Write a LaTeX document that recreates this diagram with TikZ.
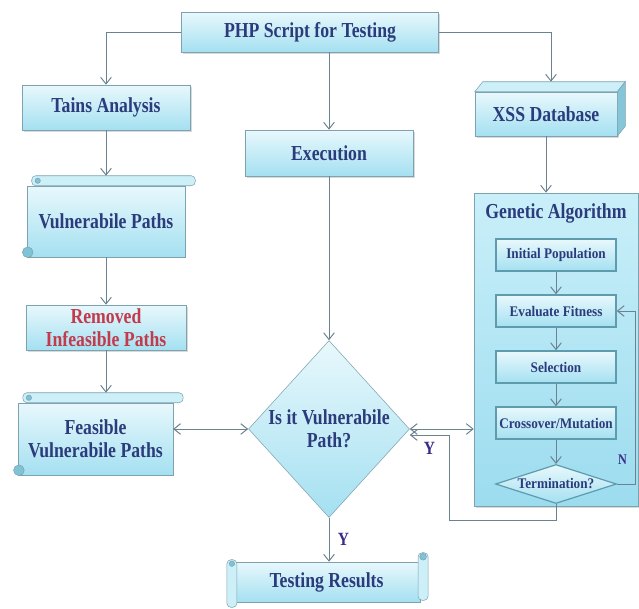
\documentclass[tikz,border=0pt]{standalone}
\usepackage{fontspec}
\setmainfont[FakeStretch=0.83]{Liberation Serif}
\newfontfamily\gafont[FakeStretch=0.9]{Liberation Serif}
\usepackage {tikz}
\usetikzlibrary {positioning}
\usetikzlibrary{shapes,arrows.meta,shadows,calc}

\definecolor{txtblue}{HTML}{2B3B7C}
\definecolor{txtred}{HTML}{C23A4C}
\definecolor{ylabel}{HTML}{3A2C88}
\definecolor{boxedge}{HTML}{7DA3B0}
\definecolor{gaedge}{HTML}{5E9CAD}
\definecolor{boxtop}{HTML}{E8F8FC}
\definecolor{boxbot}{HTML}{A4E0F1}
\definecolor{rollfill}{HTML}{CDEFF8}
\definecolor{curl}{HTML}{7FC3D6}
\definecolor{gatop}{HTML}{C9EFF9}
\definecolor{gabot}{HTML}{9CDCEF}
\definecolor{sidefill}{HTML}{86C6D8}
\definecolor{arrowgray}{HTML}{6B8290}

\tikzstyle{panel} = [rectangle, draw=boxedge, top color=boxtop, bottom color=boxbot,
    text=txtblue, font=\bfseries\fontsize{16}{17.5}\selectfont, align=center, inner sep=0pt]
\tikzstyle{block} = [panel, drop shadow={shadow xshift=1.2pt, shadow yshift=-1.2pt, opacity=0.3}]
\tikzstyle{scroll} = [panel]
\tikzstyle{decision} = [diamond, draw=boxedge, top color=boxtop, bottom color=boxbot,
    text=txtblue, font=\bfseries\fontsize{16}{17.5}\selectfont, align=center,
    inner sep=-8pt, aspect=0.9, minimum width=120.75pt, minimum height=132.75pt]
\tikzstyle{gacont} = [rectangle, draw=boxedge, top color=gatop, bottom color=gabot,
    drop shadow={shadow xshift=1.2pt, shadow yshift=-1.2pt, opacity=0.3}]
\tikzstyle{gatitle} = [text=txtblue, font=\bfseries\fontsize{16}{17.5}\selectfont]
\tikzstyle{gabox} = [rectangle, draw=gaedge, line width=1.1pt, top color=boxtop, bottom color=boxbot,
    text=txtblue, font=\gafont\bfseries\fontsize{11}{12}\selectfont,
    minimum width=90pt, minimum height=24pt, inner sep=0pt]
\tikzstyle{gatest} = [diamond, draw=gaedge, line width=0.9pt, top color=boxtop, bottom color=boxbot,
    text=txtblue, font=\gafont\bfseries\fontsize{11}{12}\selectfont,
    aspect=3, inner sep=-3pt, minimum width=90.75pt, minimum height=29.25pt]
\tikzstyle{line} = [draw=arrowgray, line width=0.75pt, ->]
\tikzstyle{dline} = [draw=arrowgray, line width=0.75pt, <->]
\tikzstyle{yn} = [text=ylabel, font=\bfseries\fontsize{14}{14}\selectfont]

% rolled paper ends
\newcommand{\hscroll}[1]{%
  \draw[boxedge, fill=rollfill, rounded corners=3pt] ($(#1.north west)+(5,-10)$) rectangle ($(#1.north east)+(10,0)$);
  \draw[boxedge, fill=curl] ($(#1.north west)+(11,-5)$) circle (2pt);
  \draw[boxedge, fill=curl] ($(#1.south west)+(1,-5)$) circle (4pt);
  \coordinate (#1-roll) at ($(#1.north)+(0,-10)$);}
\newcommand{\vscroll}[1]{%
  \draw[boxedge, fill=rollfill, rounded corners=3pt] ($(#1.south west)+(-6,5)$) rectangle ($(#1.north west)+(4,-2)$);
  \draw[boxedge, fill=rollfill, rounded corners=3pt] ($(#1.north east)+(-2,-9)$) rectangle ($(#1.south east)+(8,-2)$);
  \draw[boxedge, fill=curl] ($(#1.north west)+(-1,2)$) circle (2pt);
  \draw[boxedge, fill=curl] ($(#1.north east)+(3,-5)$) circle (2.5pt);}
% box seen in depth
\newcommand{\cubefaces}[1]{%
  \draw[boxedge, fill=rollfill] (#1.north west) -- ($(#1.north west)+(8,-10)$) -- ($(#1.north east)+(8,-10)$) -- (#1.north east) -- cycle;
  \draw[boxedge, fill=sidefill] (#1.north east) -- ($(#1.north east)+(8,-10)$) -- ($(#1.south east)+(8,-10)$) -- (#1.south east) -- cycle;
  \coordinate (#1-top) at ($(#1.north)+(5,-10)$);}

\begin{document}
\begin{tikzpicture}[x=0.75pt, y=-0.75pt, >={Straight Barb[length=5pt,width=8pt]}, node distance=42pt]
    \useasboundingbox (0,0) rectangle (639,608);
    % Place nodes
    \node [block, minimum width=192.75pt, minimum height=30pt] (php) at (310,32) {PHP Script for Testing};
    \node [block, minimum width=126pt, minimum height=33.75pt] (tains) at (106,107.5) {Tains Analysis};
    \node [block, minimum width=126pt, minimum height=34.5pt] (exec) at (329,153) {Execution};
    \node [block, minimum width=106.5pt, minimum height=33pt] (xss) at (546,114) {XSS Database};
    \cubefaces{xss}
    \node [scroll, minimum width=118.5pt, minimum height=53.25pt, below of=tains, node distance=85.5pt] (vpaths) {Vulnerabile Paths};
    \hscroll{vpaths}
    \node [block, text=txtred, minimum width=120pt, minimum height=33.75pt, below of=vpaths, node distance=79.5pt] (removed) {Removed\\Infeasible Paths};
    \node [scroll, minimum width=116pt, minimum height=54pt] (feasible) at (95.5,439) {Feasible\\Vulnerabile Paths};
    \hscroll{feasible}
    \node [decision] (isvp) at (329,429) {Is it Vulnerabile\\Path?};
    \node [scroll, minimum width=140pt, minimum height=30pt] (testing) at (326.5,582) {Testing Results};
    \vscroll{testing}
    % genetic algorithm
    \node [gacont, minimum width=123pt, minimum height=234.75pt] (ga) at (556,349.5) {};
    \node [gatitle] (gatitle) at (556,213) {Genetic Algorithm};
    \node [gabox] (init) at (556,255) {Initial Population};
    \node [gabox, below of=init] (eval) {Evaluate Fitness};
    \node [gabox, below of=eval] (sel) {Selection};
    \node [gabox, below of=sel] (cross) {Crossover/Mutation};
    \node [gatest, below of=cross, node distance=45.75pt] (term) {Termination?};
    \coordinate (ycorner) at (449,520);
    \coordinate (yin) at ($(isvp.east)+(0,6)$);
    % arrows
    \path [line] (php.west) -| (tains.north);
    \path [line] (php.east) -| (xss-top);
    \path [line] (exec.north |- php.south) -- (exec.north);
    \path [line] (tains.south) -- (tains.south |- vpaths-roll);
    \path [line] (vpaths.south) -- (removed.north);
    \path [line] (removed.south) -- (removed.south |- feasible-roll);
    \path [dline] (isvp.west -| feasible.east) -- (isvp.west);
    \path [line] (exec.south) -- (isvp.north);
    \path [dline] (isvp.east) -- (isvp.east -| ga.west);
    \path [line] (xss.south) -- (xss.south |- ga.north);
    \path [line] (isvp.south) -- node [yn, right=3pt] {Y} (isvp.south |- testing.north);
    \path [line] (init) -- (eval);
    \path [line] (eval) -- (sel);
    \path [line] (sel) -- (cross);
    \path [line] (cross) -- (term);
    \path [line] (term.east) -- node [yn, font=\bfseries\fontsize{11}{11}\selectfont, pos=0.3, above=11pt] {N} ++(18,0) |- (eval.east);
    \path [line] (term.south) |- (ycorner) |- node [yn, pos=0.75, below=2pt] {Y} (yin);

\end{tikzpicture}
\end{document}
